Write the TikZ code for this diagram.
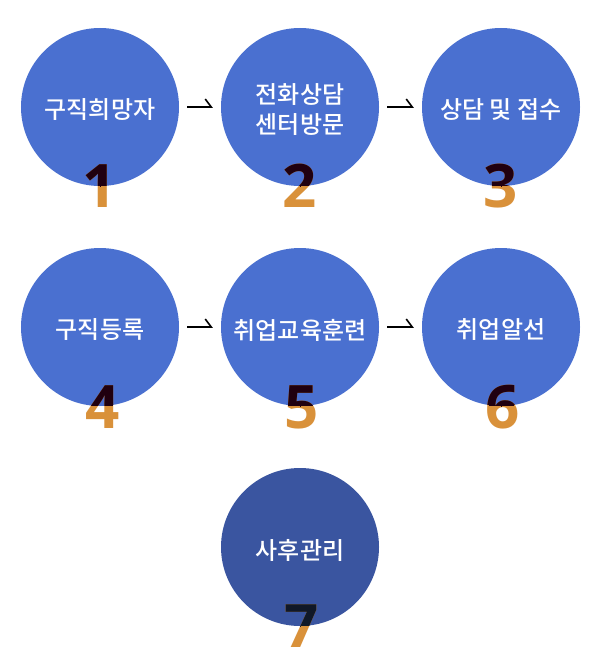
\documentclass[tikz,border=0pt]{standalone}
\usepackage{fontspec}
\setmainfont{Noto Sans CJK KR}[UprightFont=* Medium]
\newfontfamily\numfont{Open Sans}
\usetikzlibrary{arrows.meta}
\definecolor{cblue}{HTML}{4A70D0}
\definecolor{cnavy}{HTML}{3A55A0}
\definecolor{corange}{HTML}{D9913A}
\definecolor{cdark}{HTML}{200010}
\definecolor{cdarknavy}{HTML}{101828}
\tikzset{
  stepcircle/.style={circle, minimum size=158bp, inner sep=0pt, fill=cblue},
  steptext/.style={inner sep=0pt, text=white, align=center,
    font=\fontsize{24bp}{30bp}\selectfont},
  stepnum/.style={anchor=base, inner sep=0pt, font=\numfont\bfseries\fontsize{60bp}{60bp}\selectfont},
  harp/.style={line width=2.6bp, shorten <=8bp, shorten >=8bp,
    -{Straight Barb[left,length=6bp,width=16bp,line width=1.6bp]}}
}
\begin{document}
\begin{tikzpicture}[x=1bp,y=-1bp]
\useasboundingbox (0,0) rectangle (600,661);
% circles
\node[stepcircle] (c1) at (100,107) {};
\node[stepcircle] (c2) at (300,107) {};
\node[stepcircle] (c3) at (501,107) {};
\node[stepcircle] (c4) at (100,327) {};
\node[stepcircle] (c5) at (300,327) {};
\node[stepcircle] (c6) at (501,327) {};
\node[stepcircle, fill=cnavy] (c7) at (300,547) {};
% numbers (orange part)
\foreach \i/\x/\y in {1/100/207,2/300/207,3/501/207,4/103/428,5/302/428,6/503/428,7/302/647}{
  \node[stepnum, text=corange] (n\i) at (\x,\y) {\i};
}
% numbers (dark part inside circle)
\foreach \i/\x/\y/\c in {1/100/207/cdark,2/300/207/cdark,3/501/207/cdark,4/103/428/cdark,5/302/428/cdark,6/503/428/cdark,7/302/647/cdarknavy}{
  \begin{scope}
    \clip (c\i.center) circle[radius=79bp];
    \node[stepnum, text=\c] (m\i) at (\x,\y) {\i};
  \end{scope}
}
% texts
\node[steptext] (t1) at ([yshift=-3bp]c1.center) {구직희망자};
\node[steptext] (t2) at ([yshift=-3bp]c2.center) {전화상담\\센터방문};
\node[steptext] (t3) at ([yshift=-3bp]c3.center) {상담 및 접수};
\node[steptext] (t4) at ([yshift=-3bp]c4.center) {구직등록};
\node[steptext] (t5) at ([yshift=-3bp]c5.center) {취업교육훈련};
\node[steptext] (t6) at ([yshift=-3bp]c6.center) {취업알선};
\node[steptext] (t7) at ([yshift=-3bp]c7.center) {사후관리};
% arrows
\draw[harp] (c1.east) -- (c2.west);
\draw[harp] (c2.east) -- (c3.west);
\draw[harp] (c4.east) -- (c5.west);
\draw[harp] (c5.east) -- (c6.west);
\end{tikzpicture}
\end{document}
